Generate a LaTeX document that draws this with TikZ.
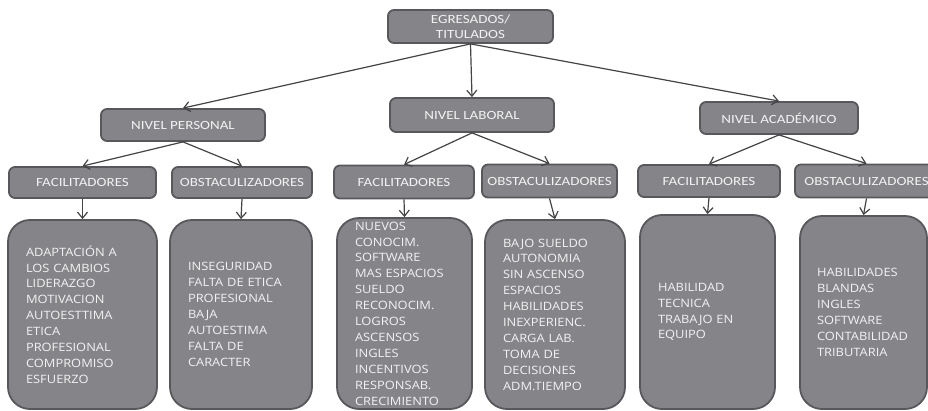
\documentclass[tikz,border=0pt]{standalone}
\usepackage{fontspec}
\setmainfont{Carlito}[FakeStretch=1.2]
\newfontfamily\listfont{Open Sans}[FakeStretch=1.12]
\usetikzlibrary{arrows.meta}
\definecolor{boxfill}{HTML}{858589}
\definecolor{boxline}{HTML}{58585C}
\definecolor{boxtext}{HTML}{F2F2F2}
\definecolor{arrowgray}{HTML}{444444}

\begin{document}
\begin{tikzpicture}[
    x=1pt, y=-1pt,
    >={Straight Barb[length=6pt,width=10pt]},
    head/.style={draw=boxline, fill=boxfill, line width=1.8pt, rounded corners=6pt,
        text=boxtext, align=center, inner sep=0pt, font=\fontsize{12.5}{14.5}\selectfont},
    list/.style={draw=boxline, fill=boxfill, line width=1.8pt, rounded corners=22pt,
        text=boxtext, align=left, inner xsep=18pt, inner ysep=0pt,
        font=\listfont\fontsize{11.5}{15.9}\selectfont},
    link/.style={->, draw=arrowgray, line width=1.2pt},
]
\path[use as bounding box, fill=white] (0,0) rectangle (928,411);
% Nodes
\node[head, minimum width=165pt, minimum height=33pt] (egr) at (470.5,26.5) {EGRESADOS/\\TITULADOS};
\node[head, minimum width=164pt, minimum height=32pt] (np) at (183,125) {NIVEL PERSONAL};
\node[head, minimum width=164pt, minimum height=34pt] (nl) at (472,115) {NIVEL LABORAL};
\node[head, minimum width=158pt, minimum height=32pt] (na) at (779,118) {NIVEL ACADÉMICO};
\node[head, minimum width=147pt, minimum height=31pt] (fp) at (82.5,182.5) {FACILITADORES};
\node[head, minimum width=140pt, minimum height=31pt] (op) at (242,182.5) {OBSTACULIZADORES};
\node[head, minimum width=140pt, minimum height=33pt] (fl) at (404,182) {FACILITADORES};
\node[head, minimum width=135pt, minimum height=33pt] (ol) at (549.5,181) {OBSTACULIZADORES};
\node[head, minimum width=142pt, minimum height=32pt] (fa) at (709,181) {FACILITADORES};
\node[head, minimum width=143pt, minimum height=33pt] (oa) at (866.5,181) {OBSTACULIZADORES};
\node[list, text width=113pt, minimum height=189pt] (bfp) at (82.5,314.5)
    {ADAPTACIÓN A\\LOS CAMBIOS\\LIDERAZGO\\MOTIVACION\\AUTOESTTIMA\\ETICA\\PROFESIONAL\\COMPROMISO\\ESFUERZO};
\node[list, text width=106pt, minimum height=189pt] (bop) at (241,314.5)
    {INSEGURIDAD\\FALTA DE ETICA\\PROFESIONAL\\BAJA\\AUTOESTIMA\\FALTA DE\\CARACTER};
\node[list, text width=99pt, minimum height=191pt] (bfl) at (404.5,313.5)
    {NUEVOS\\CONOCIM.\\SOFTWARE\\MAS ESPACIOS\\SUELDO\\RECONOCIM.\\LOGROS\\ASCENSOS\\INGLES\\INCENTIVOS\\RESPONSAB.\\CRECIMIENTO};
\node[list, text width=104pt, minimum height=189pt] (bol) at (555,314.5)
    {BAJO SUELDO\\AUTONOMIA\\SIN ASCENSO\\ESPACIOS\\HABILIDADES\\INEXPERIENC.\\CARGA LAB.\\TOMA DE\\DECISIONES\\ADM.TIEMPO};
\node[list, text width=99pt, minimum height=194pt] (bfa) at (707.5,312)
    {HABILIDAD\\TECNICA\\TRABAJO EN\\EQUIPO};
\node[list, text width=93pt, inner xsep=17pt, minimum height=193pt] (boa) at (863.5,312.5)
    {HABILIDADES\\BLANDAS\\INGLES\\SOFTWARE\\CONTABILIDAD\\TRIBUTARIA};
% Arrows
\draw[link] (egr.south) -- (np.north);
\draw[link] (egr.south) -- (nl.north);
\draw[link] (egr.south) -- (na.north);
\draw[link] (np.south) -- (fp.north);
\draw[link] (np.south) -- (op.north);
\draw[link] (nl.south) -- (fl.north);
\draw[link] (nl.south) -- (ol.north);
\draw[link] (na.south) -- (fa.north);
\draw[link] (na.south) -- (oa.north);
\draw[link] (fp.south) -- (bfp.north);
\draw[link] (op.south) -- (bop.north);
\draw[link] (fl.south) -- (bfl.north);
\draw[link] (ol.south) -- (bol.north);
\draw[link] (fa.south) -- (bfa.north);
\draw[link] (oa.south) -- (boa.north);
\end{tikzpicture}
\end{document}
